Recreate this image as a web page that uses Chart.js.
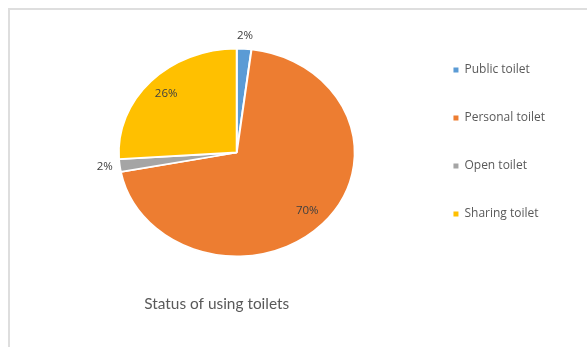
<!DOCTYPE html>
<html>
<head>
<meta charset="utf-8">
<script src="https://cdn.jsdelivr.net/npm/chart.js"></script>
<style>
  html, body { margin: 0; padding: 0; background: #fff; }
  #frame {
    position: absolute; left: 8px; top: 8px; right: 0; bottom: 0;
    border-left: 2px solid #dedede; border-top: 2px solid #dedede;
  }
  canvas { display: block; }
</style>
</head>
<body>
<div id="frame"><canvas id="toilets" width="577" height="337"></canvas></div>
<script>
const categories = ['Public toilet', 'Personal toilet', 'Open toilet', 'Sharing toilet']
const shares = [2, 70, 2, 26]
const colors = ['#5B9BD5', '#ED7D31', '#A5A5A5', '#FFC000']
const chartTitle = 'Status of using toilets'

// the picture's pie is a bit squashed vertically
const Y_SCALE = 0.88

const squashPie = {
    id: 'squashPie',
    beforeDatasetsDraw(chart) {
        const arc = chart.getDatasetMeta(0).data[0]
        const ctx = chart.ctx
        ctx.save()
        ctx.translate(arc.x, arc.y)
        ctx.scale(1, Y_SCALE)
        ctx.translate(-arc.x, -arc.y)
    },
    afterDatasetsDraw(chart) {
        const ctx = chart.ctx
        ctx.restore()
        // percent labels, small slices go outside
        ctx.save()
        ctx.font = '11.5px "Open Sans"'
        ctx.fillStyle = '#404040'
        ctx.textAlign = 'center'
        ctx.textBaseline = 'middle'
        chart.getDatasetMeta(0).data.forEach((arc, i) => {
            const mid = (arc.startAngle + arc.endAngle) / 2
            const r = shares[i] < 5 ? arc.outerRadius + 15 : arc.outerRadius * 0.82
            const x = arc.x + Math.cos(mid) * r
            const y = arc.y + Math.sin(mid) * r * Y_SCALE
            ctx.fillText(shares[i] + '%', x, y)
        })
        ctx.restore()
    },
    afterDraw(chart) {
        const ctx = chart.ctx
        const area = chart.chartArea
        ctx.save()
        ctx.font = '15.4px Lato'
        ctx.fillStyle = '#595959'
        ctx.textAlign = 'center'
        ctx.textBaseline = 'middle'
        ctx.fillText(chartTitle, (area.left + area.right) / 2 - 20, area.bottom + 27)
        ctx.restore()
    }
}

const defaultLabels = Chart.controllers.pie.overrides.plugins.legend.labels.generateLabels

const ctx = document.querySelector('#toilets')
const toiletChart = new Chart(ctx, {
    type: 'pie',
    data: {
        labels: categories,
        datasets: [{
            data: shares,
            backgroundColor: colors,
            borderColor: '#ffffff',
            borderWidth: 2,
            radius: 118
        }]
    },
    options: {
        responsive: false,
        animation: false,
        layout: {padding: {left: 46, right: 32, top: 18, bottom: 70}},
        plugins: {
            legend: {
                position: 'right',
                align: 'start',
                labels: {
                    boxWidth: 5,
                    boxHeight: 5,
                    padding: 36,
                    color: '#595959',
                    font: {family: 'Open Sans', size: 12},
                    generateLabels: chart => defaultLabels(chart).map(item => ({...item, lineWidth: 0}))
                }
            },
            tooltip: {enabled: false}
        }
    },
    plugins: [squashPie]
})
</script>
</body>
</html>
